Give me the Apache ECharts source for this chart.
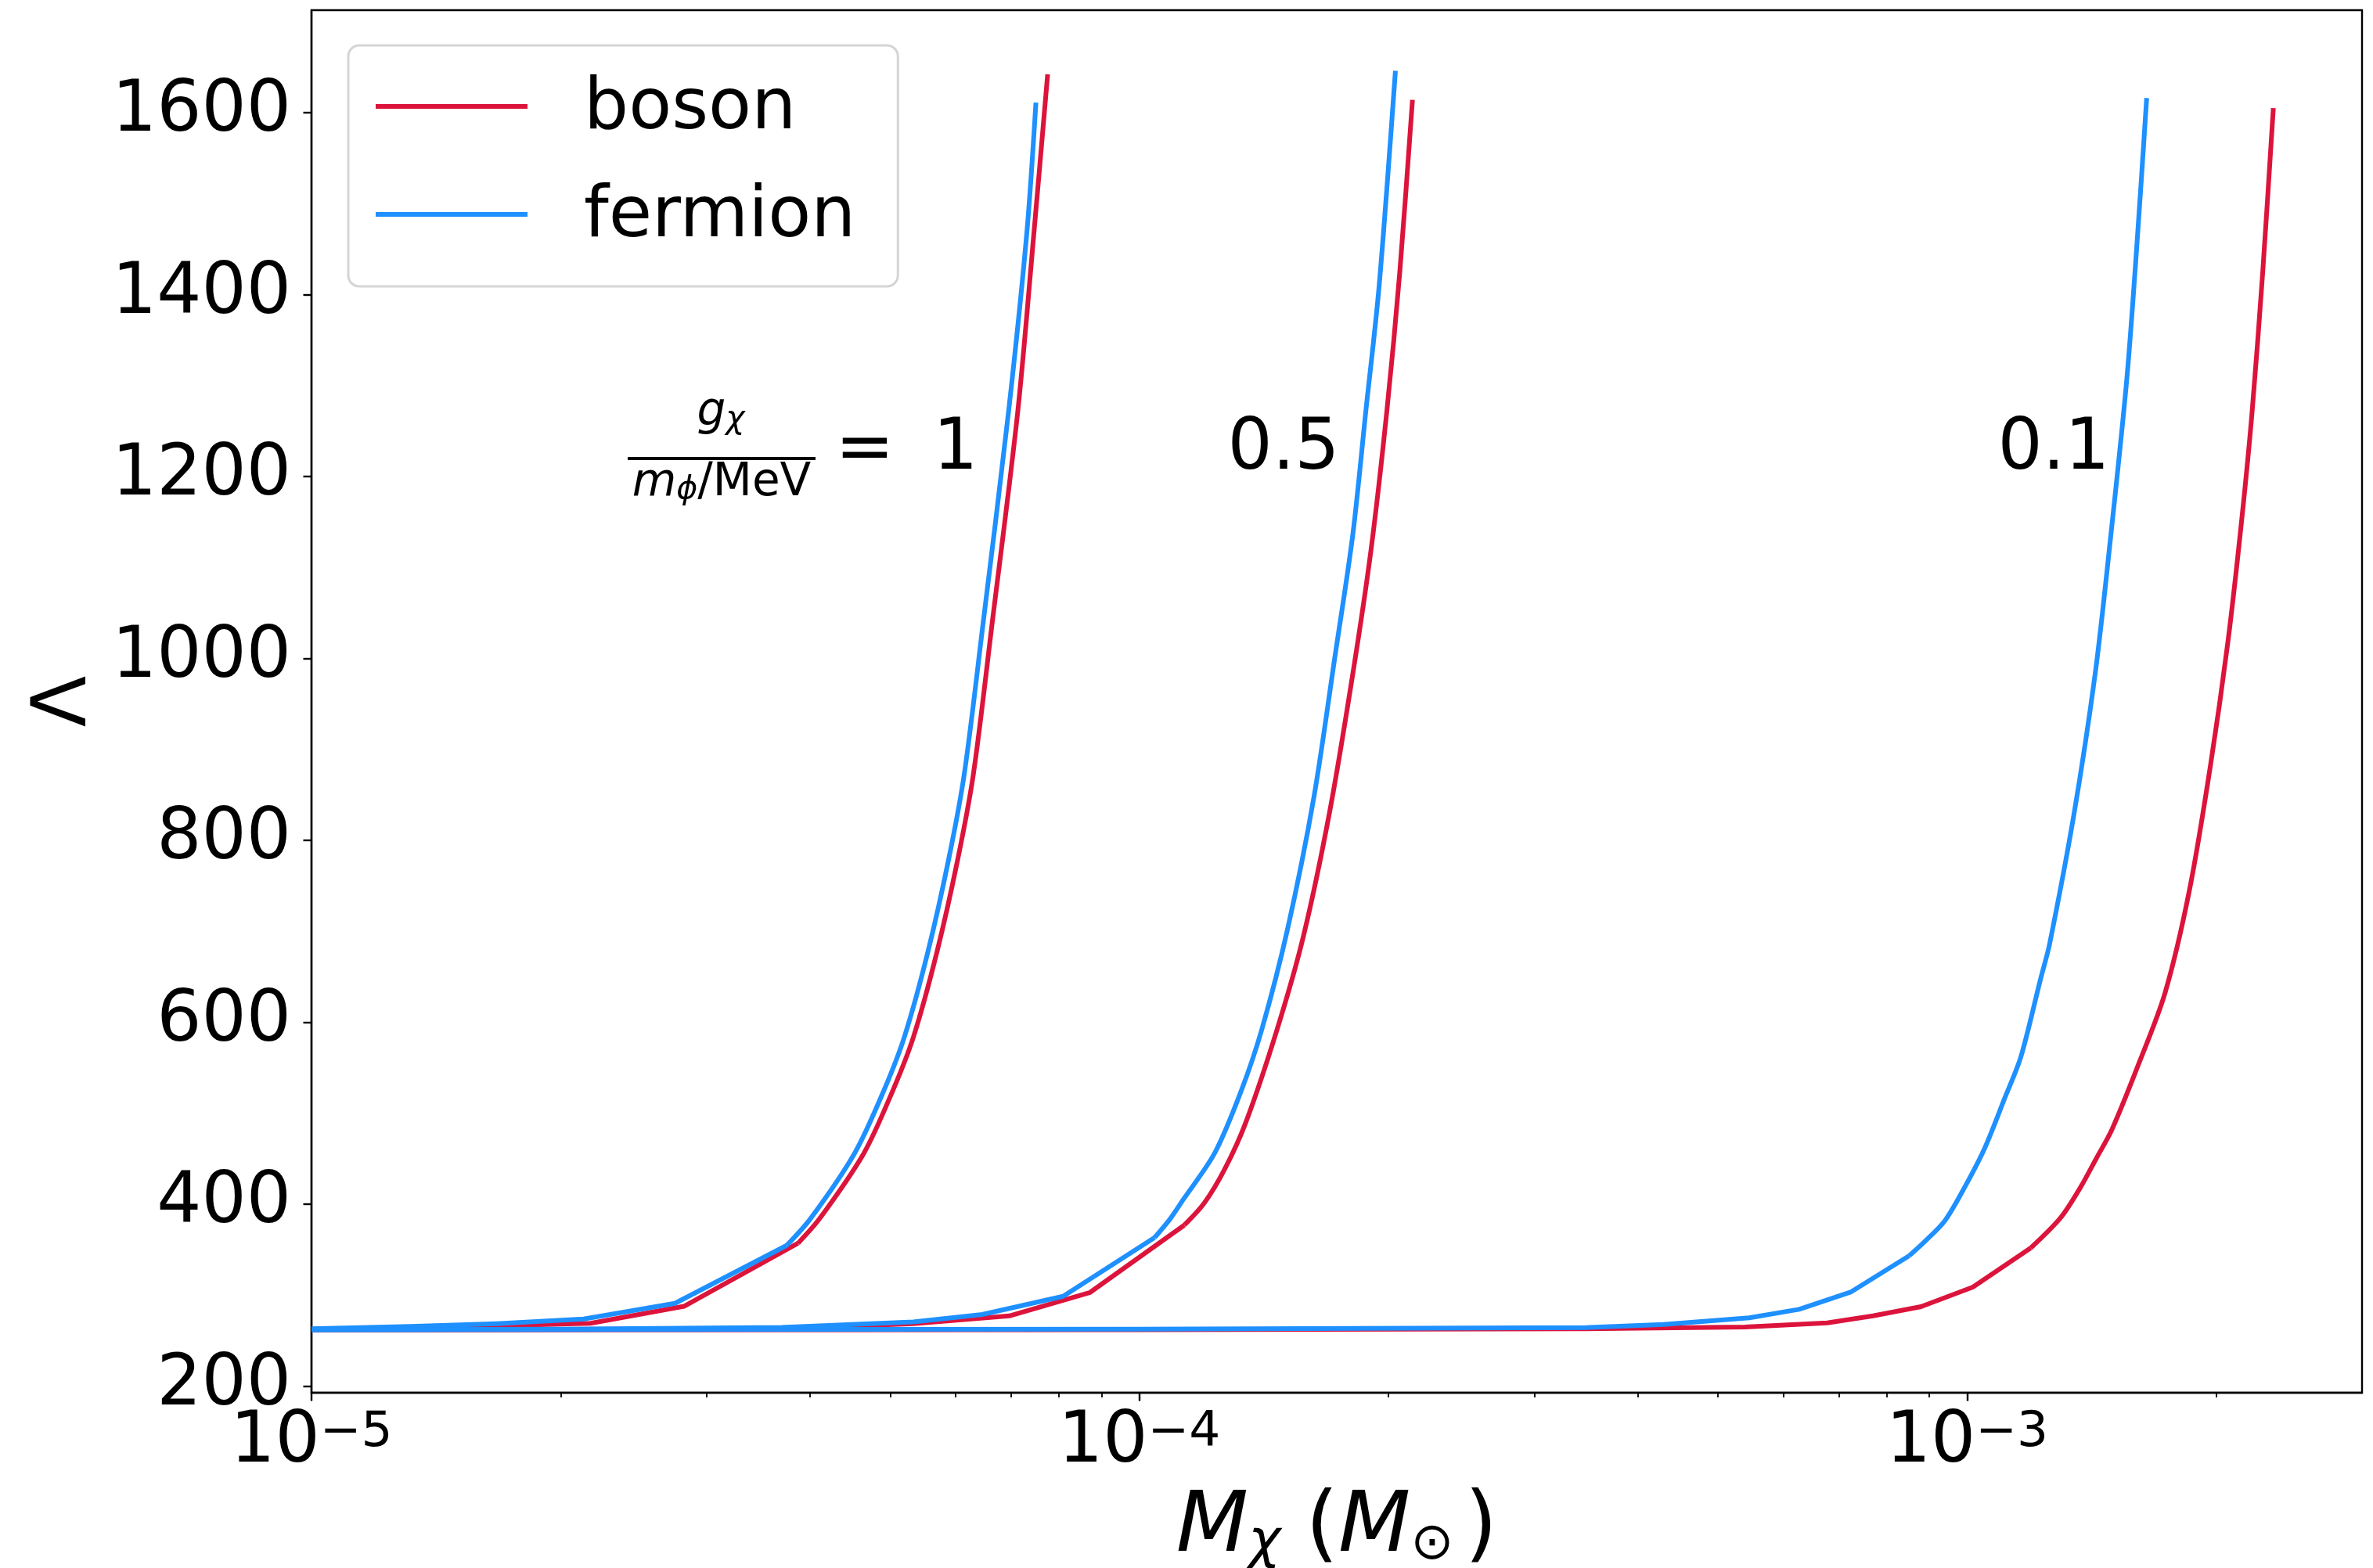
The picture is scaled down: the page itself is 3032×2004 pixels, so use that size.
<!DOCTYPE html>
<html>
<head>
<meta charset="utf-8">
<script src="https://cdn.jsdelivr.net/npm/echarts@6/dist/echarts.min.js"></script>
<style>
html,body{margin:0;padding:0;background:#fff;}
#chart{width:3032px;height:2004px;}
</style>
</head>
<body>
<div id="chart"></div>
<script>
// ---- data: [M_chi (M_sun), Lambda] ----
const bosonG1 = [[1e-5,262.5],[1.318e-5,264.5],[1.698e-5,266.5],[2.173e-5,269],[2.818e-5,287.7],[3.870e-5,357],
  [4.109e-5,384],[4.648e-5,456],[5.033e-5,524],[5.336e-5,584],[5.695e-5,677],[6.035e-5,779],[6.304e-5,873],
  [6.632e-5,1034],[7.133e-5,1272],[7.460e-5,1468],[7.750e-5,1642]];
const fermionG1 = [[1e-5,263],[1.318e-5,265.5],[1.675e-5,268.6],[2.133e-5,273.8],[2.748e-5,291],[3.750e-5,354.6],
  [4.006e-5,384],[4.530e-5,456],[4.909e-5,524],[5.203e-5,584],[5.553e-5,677],[5.884e-5,779],[6.146e-5,873],
  [6.467e-5,1034],[6.953e-5,1272],[7.314e-5,1468],[7.501e-5,1611]];
const bosonG05 = [[1e-5,262],[2e-5,262.3],[3.7e-5,263],[5.333e-5,268.5],[6.966e-5,277.2],[8.72e-5,303],
  [1.1335e-4,377],[1.1977e-4,401],[1.269e-4,439],[1.345e-4,490],[1.467e-4,592],[1.578e-4,694],[1.697e-4,830],
  [1.811e-4,983],[1.905e-4,1119],[1.991e-4,1272],[2.064e-4,1425],[2.138e-4,1614]];
const fermionG05 = [[1e-5,262],[2e-5,262.5],[3.7e-5,264.5],[5.334e-5,270.5],[6.461e-5,278.7],[8.091e-5,298.7],
  [1.0433e-4,363.2],[1.090e-4,384],[1.130e-4,405],[1.233e-4,456],[1.327e-4,524],[1.406e-4,592],[1.511e-4,703],
  [1.625e-4,847],[1.722e-4,1000],[1.811e-4,1136],[1.878e-4,1272],[1.948e-4,1408],[2.039e-4,1646]];
const bosonG01 = [[1e-5,261.8],[1e-4,262],[3.461e-4,263],[5.393e-4,264.9],[6.776e-4,269.5],[7.697e-4,277.2],
  [8.797e-4,287.3],[1.0162e-3,308.8],[1.1936e-3,351.8],[1.297e-3,385],[1.3719e-3,419],[1.4339e-3,451],
  [1.496e-3,482],[1.605e-3,550],[1.734e-3,632],[1.856e-3,745],[1.967e-3,881],[2.065e-3,1017],[2.147e-3,1153],
  [2.210e-3,1272],[2.276e-3,1425],[2.344e-3,1605]];
const fermionG01 = [[1e-5,262],[1e-4,262.5],[3.461e-4,264.3],[4.298e-4,267.8],[5.455e-4,275],[6.268e-4,284.4],
  [7.244e-4,303.6],[8.511e-4,343.2],[8.892e-4,359],[9.404e-4,382],[9.938e-4,419],[1.0507e-3,462],[1.1109e-3,517],
  [1.1614e-3,562],[1.2271e-3,648],[1.258e-3,686],[1.347e-3,830],[1.428e-3,983],[1.485e-3,1119],[1.559e-3,1306],
  [1.605e-3,1459],[1.648e-3,1616]];

const seriesNames = ['boson', 'fermion'];
const xMajorTicks = [1e-5, 1e-4, 1e-3];
const xMinorTicks = [2e-5,3e-5,4e-5,5e-5,6e-5,7e-5,8e-5,9e-5,2e-4,3e-4,4e-4,5e-4,6e-4,7e-4,8e-4,9e-4,2e-3];
const yTicks = [200, 400, 600, 800, 1000, 1200, 1400, 1600];
const couplingLabels = ['1', '0.5', '0.1'];

const FONT = 'DejaVu Sans';
const RED = '#DC143C', BLUE = '#1E90FF';
const LW = 6;

// coarse low-mass part is drawn as a polyline, dense high part as a smooth curve
function curveSeries(name, data, color, split) {
  const base = {
    type: 'line', name: name, xAxisIndex: 0, yAxisIndex: 0,
    showSymbol: false, symbol: 'none',
    lineStyle: {color: color, width: LW, join: 'round'}, itemStyle: {color: color},
    emphasis: {disabled: true}
  };
  return [
    Object.assign({}, base, {data: data.slice(0, split + 1), smooth: false}),
    Object.assign({}, base, {data: data.slice(split), smooth: 0.3})
  ];
}

const chart = echarts.init(document.getElementById('chart'), null, {renderer: 'canvas'});
const option = {
  animation: false,
  backgroundColor: '#fff',
  textStyle: {fontFamily: FONT},
  grid: {left: 398, right: 14, top: 13, bottom: 224, containLabel: false, outerBoundsMode: 'none',
    show: true, borderColor: '#000', borderWidth: 2.4, backgroundColor: 'transparent'},
  legend: {
    data: seriesNames, left: 445, top: 58, orient: 'vertical',
    // handle bar sits at the top of a taller icon box, so the bar is ~5px above the text middle
    icon: 'path://M0,0L194,0L194,6L0,6ZM0,16L0,16Z', symbolKeepAspect: false,
    itemWidth: 194, itemHeight: 16, itemGap: 38,
    padding: [33, 54, 37, 35],
    backgroundColor: '#fff', borderColor: '#d5d5d5', borderWidth: 3, borderRadius: 14,
    textStyle: {fontFamily: FONT, fontSize: 90, lineHeight: 100, color: '#000', padding: [0, 0, 0, 67]},
    selectedMode: false
  },
  xAxis: [{
    type: 'log', logBase: 10, min: 1e-5, max: 3e-3, position: 'bottom',
    axisLine: {show: true, lineStyle: {color: '#000', width: 2.4}},
    axisTick: {show: true, length: 10.5, lineStyle: {color: '#000', width: 2.4}, customValues: xMajorTicks},
    axisLabel: {
      show: true, margin: 20, customValues: xMajorTicks,
      formatter: function (v) { const e = Math.round(Math.log10(v)); return '{b|10}{sup|' + (e < 0 ? '\u2212' + (-e) : e) + '}'; },
      rich: {
        b: {fontFamily: FONT, fontSize: 90, lineHeight: 90, color: '#000'},
        sup: {fontFamily: FONT, fontSize: 63, lineHeight: 36, verticalAlign: 'top', color: '#000'}
      }
    },
    splitLine: {show: false}, minorTick: {show: false},
    name: '{i|M}{s|\u03c7}{sp| }{n|(}{i|M}{s2|\u2299}{n|)}',
    nameLocation: 'middle', nameGap: 121,
    nameTextStyle: {
      rich: {
        i: {fontFamily: FONT, fontStyle: 'italic', fontSize: 107, lineHeight: 107, color: '#000'},
        s: {fontFamily: FONT, fontStyle: 'italic', fontSize: 70, lineHeight: 50, verticalAlign: 'bottom', color: '#000'},
        s2: {fontFamily: FONT, fontSize: 66, lineHeight: 50, verticalAlign: 'bottom', color: '#000', padding: [0, 14, 0, 0]},
        n: {fontFamily: FONT, fontSize: 107, lineHeight: 107, color: '#000'},
        sp: {fontFamily: FONT, fontSize: 100, lineHeight: 100, color: '#000'}
      }
    }
  }, {
    type: 'log', logBase: 10, min: 1e-5, max: 3e-3, position: 'bottom', offset: 0,
    axisLine: {show: false},
    axisTick: {show: true, length: 6, lineStyle: {color: '#000', width: 1.8}, customValues: xMinorTicks},
    axisLabel: {show: false}, splitLine: {show: false}
  }],
  yAxis: [{
    type: 'value', min: 192.7, max: 1712.6,
    axisLine: {show: true, lineStyle: {color: '#000', width: 2.4}},
    axisTick: {show: true, length: 10.5, lineStyle: {color: '#000', width: 2.4}, customValues: yTicks},
    axisLabel: {show: true, margin: 26, customValues: yTicks, fontFamily: FONT, fontSize: 90, color: '#000',
      formatter: function (v) { return String(v); }},
    splitLine: {show: false},
    name: '\u039b', nameLocation: 'middle', nameRotate: 90, nameGap: 246,
    nameTextStyle: {fontFamily: FONT, fontSize: 96, lineHeight: 96, color: '#000'}
  }],
  series: [].concat(
    curveSeries('boson', bosonG1, RED, 5),
    curveSeries('boson', bosonG05, RED, 6),
    curveSeries('boson', bosonG01, RED, 8),
    curveSeries('fermion', fermionG1, BLUE, 5),
    curveSeries('fermion', fermionG05, BLUE, 6),
    curveSeries('fermion', fermionG01, BLUE, 7)
  ),
  graphic: [
    {type: 'text', z: 100, style: {x: 921, y: 528, align: 'center', verticalAlign: 'middle',
      text: '{i|g}{s|\u03c7}',
      rich: {
        i: {fontFamily: FONT, fontStyle: 'italic', fontSize: 58, lineHeight: 58, fill: '#000'},
        s: {fontFamily: FONT, fontStyle: 'italic', fontSize: 41, lineHeight: 27, verticalAlign: 'bottom', fill: '#000'}
      }}},
    {type: 'line', z: 100, shape: {x1: 802, y1: 586, x2: 1042, y2: 586}, style: {stroke: '#000', lineWidth: 4}},
    {type: 'text', z: 100, style: {x: 922, y: 618, align: 'center', verticalAlign: 'middle',
      text: '{i|m}{s|\u03d5}{n|/MeV}',
      rich: {
        i: {fontFamily: FONT, fontStyle: 'italic', fontSize: 58, lineHeight: 58, fill: '#000'},
        s: {fontFamily: FONT, fontStyle: 'italic', fontSize: 41, lineHeight: 27, verticalAlign: 'bottom', fill: '#000'},
        n: {fontFamily: FONT, fontSize: 58, lineHeight: 58, fill: '#000'}
      }}},
    {type: 'text', z: 100, style: {x: 1105, y: 578, align: 'center', verticalAlign: 'middle', text: '=',
      font: '90px "DejaVu Sans"', fill: '#000'}},
    {type: 'text', z: 100, style: {x: 1221, y: 576, align: 'center', verticalAlign: 'middle', text: couplingLabels[0],
      font: '90px "DejaVu Sans"', fill: '#000'}},
    {type: 'text', z: 100, style: {x: 1640, y: 576, align: 'center', verticalAlign: 'middle', text: couplingLabels[1],
      font: '90px "DejaVu Sans"', fill: '#000'}},
    {type: 'text', z: 100, style: {x: 2624, y: 576, align: 'center', verticalAlign: 'middle', text: couplingLabels[2],
      font: '90px "DejaVu Sans"', fill: '#000'}}
  ]
};
chart.setOption(option);
</script>
</body>
</html>
